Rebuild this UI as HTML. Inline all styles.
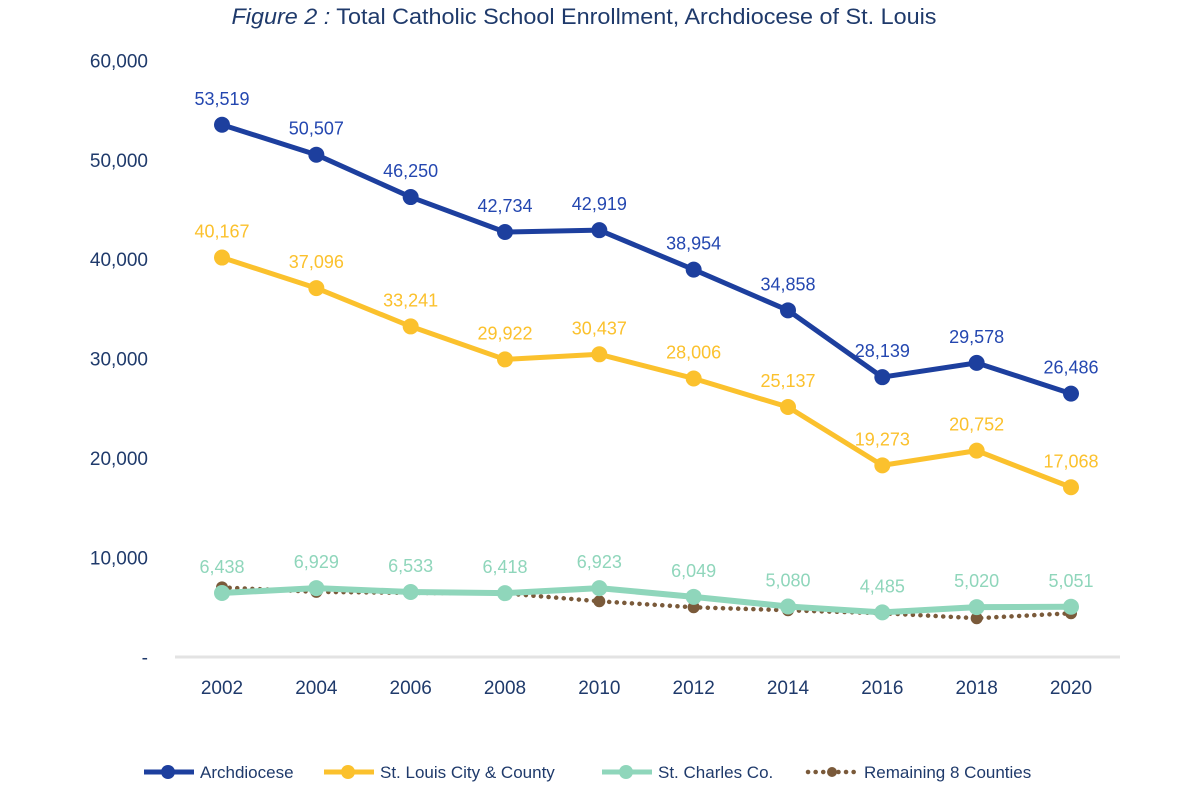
<!DOCTYPE html>
<html><head><meta charset="utf-8"><style>
body{margin:0;background:#fff;width:1180px;height:791px;overflow:hidden}
svg text{font-family:"Liberation Sans Narrow","Liberation Sans",sans-serif}
</style></head><body>
<svg id="chart" width="1180" height="791" viewBox="0 0 1180 791">
<text x="584" y="24" text-anchor="middle" font-size="22" fill="#1f3a6b" textLength="705" lengthAdjust="spacingAndGlyphs"><tspan font-style="italic">Figure 2 :</tspan> Total Catholic School Enrollment, Archdiocese of St. Louis</text>
<g id="yaxis"></g>
<g id="xaxis"></g>
<g id="series"></g>
<g id="legend"></g>
</svg>
<script>
const years=["2002","2004","2006","2008","2010","2012","2014","2016","2018","2020"];
const archdiocese=[53519,50507,46250,42734,42919,38954,34858,28139,29578,26486];
const stLouis=[40167,37096,33241,29922,30437,28006,25137,19273,20752,17068];
const stCharles=[6438,6929,6533,6418,6923,6049,5080,4485,5020,5051];
const remaining=[7000,6550,6450,6400,5600,5000,4700,4400,3900,4400];
const yTicks=[0,10000,20000,30000,40000,50000,60000];
const yTickLabels=["-","10,000","20,000","30,000","40,000","50,000","60,000"];
const seriesNames=["Archdiocese","St. Louis City & County","St. Charles Co.","Remaining 8 Counties"];
const NS="http://www.w3.org/2000/svg";
function x(i){return 222+i*(1071-222)/9;}
function y(v){return 657-v*0.009945;}
function mk(tag,attrs,parent){const e=document.createElementNS(NS,tag);for(const k in attrs)e.setAttribute(k,attrs[k]);parent.appendChild(e);return e;}
const ya=document.getElementById('yaxis'),xa=document.getElementById('xaxis'),sg=document.getElementById('series'),lg=document.getElementById('legend');
yTicks.forEach((t,i)=>{const e=mk('text',{x:148,y:y(t)+7,'text-anchor':'end','font-size':19,fill:'#1f3a6b'},ya);e.textContent=yTickLabels[i];

});
const ax=mk('line',{x1:175,x2:1120,y1:657,y2:657,stroke:'#e3e3e3','stroke-width':3},xa);


years.forEach((yr,i)=>{const e=mk('text',{x:x(i),y:694,'text-anchor':'middle','font-size':19,fill:'#1f3a6b'},xa);e.textContent=yr;

});
const cfg=[
 {d:remaining,c:'#7a5a3a',w:4.5,dash:'0.1 7.5',r:6,lab:false,name:'remaining-counties'},
 {d:stCharles,c:'#8fd6bb',w:6,r:8,lab:true,name:'st-charles'},
 {d:stLouis,c:'#fbc12d',w:5,r:8,lab:true,name:'st-louis'},
 {d:archdiocese,c:'#1d3f9e',w:5,r:8,lab:true,name:'archdiocese'}];
cfg.forEach(s=>{
 const p=mk('polyline',{points:s.d.map((v,i)=>x(i)+','+y(v)).join(' '),fill:'none',stroke:s.c,'stroke-width':s.w,'stroke-dasharray':s.dash||'none','stroke-linecap':s.dash?'round':'butt','stroke-linejoin':'round'},sg);
 
 
 s.d.forEach((v,i)=>{const c=mk('circle',{cx:x(i),cy:y(v),r:s.r,fill:s.c},sg);
  
  
  if(s.lab){const t=mk('text',{x:x(i),y:y(v)-20,'text-anchor':'middle','font-size':18,fill:s.c==='#1d3f9e'?'#2447b0':s.c},sg);t.textContent=v.toLocaleString('en-US');
  
  }
 });
});
const lx=[142,322,600,806],colors=['#1d3f9e','#fbc12d','#8fd6bb','#7a5a3a'];
seriesNames.forEach((n,i)=>{const g=mk('g',{},lg);
 
 
 mk('line',{x1:lx[i]+2,x2:lx[i]+52,y1:772,y2:772,stroke:colors[i],'stroke-width':i==3?4.5:5,'stroke-dasharray':i==3?'0.1 7.5':'none','stroke-linecap':i==3?'round':'butt'},g);
 mk('circle',{cx:lx[i]+26,cy:772,r:i==3?5:7,fill:colors[i]},g);
 const t=mk('text',{x:lx[i]+58,y:778,'font-size':17,fill:'#1f3a6b'},g);t.textContent=n;});
</script>
</body></html>
